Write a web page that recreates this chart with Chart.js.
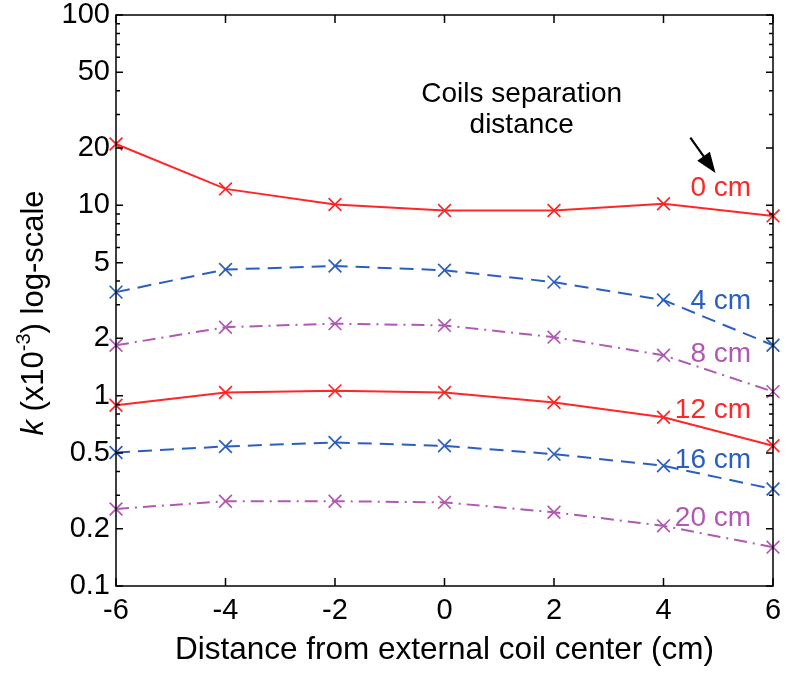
<!DOCTYPE html>
<html lang="en">
<head>
    <meta charset="UTF-8">
    <title>Coupling coefficient vs distance</title>
    <style>
        html, body { margin: 0; padding: 0; background: #fff; }
        canvas { display: block; }
    </style>
</head>
<body>
    <canvas id="kChart" width="785" height="673"></canvas>

    <script src="https://cdn.jsdelivr.net/npm/chart.js"></script>
    <script>
        // x positions (cm from external coil center)
        const distances = [-6, -4, -2, 0, 2, 4, 6];

        // k (x10^-3) for each coil separation distance
        const k0cm  = [21.0, 12.2, 10.1, 9.4, 9.4, 10.2, 8.8];
        const k4cm  = [3.5, 4.6, 4.8, 4.56, 3.95, 3.18, 1.84];
        const k8cm  = [1.84, 2.29, 2.39, 2.34, 2.03, 1.63, 1.05];
        const k12cm = [0.89, 1.04, 1.06, 1.04, 0.92, 0.77, 0.545];
        const k16cm = [0.503, 0.541, 0.568, 0.545, 0.493, 0.428, 0.323];
        const k20cm = [0.254, 0.279, 0.279, 0.275, 0.244, 0.207, 0.160];

        const separationLabels = ['0 cm', '4 cm', '8 cm', '12 cm', '16 cm', '20 cm'];

        const xTicks = [-6, -4, -2, 0, 2, 4, 6];
        const yTicks = [0.1, 0.2, 0.5, 1, 2, 5, 10, 20, 50, 100];

        const RED = '#ff2626';
        const BLUE = '#2a5fbf';
        const MAGENTA = '#b058b4';
        const FONT = '"Liberation Sans", Arial, Helvetica, sans-serif';

        function series(values, color, dash) {
            return {
                data: distances.map((x, i) => ({ x: x, y: values[i] })),
                borderColor: color,
                backgroundColor: color,
                borderWidth: 2,
                borderDash: dash,
                pointStyle: 'crossRot',
                pointRadius: 9,
                pointBorderWidth: 1.7,
                pointBorderColor: color,
                tension: 0,
                fill: false,
                clip: false
            };
        }

        const dashed = [14, 8];
        const dashDot = [13, 6, 2, 6];

        // where each curve name sits (right aligned, data coords)
        const labelSpots = [
            { x: 5.6, y: 11.2, color: RED },
            { x: 5.6, y: 2.87, color: BLUE },
            { x: 5.6, y: 1.50, color: MAGENTA },
            { x: 5.6, y: 0.761, color: RED },
            { x: 5.6, y: 0.416, color: BLUE },
            { x: 5.6, y: 0.2066, color: MAGENTA }
        ];

        // draws the box, inward ticks, y title and the text notes
        const decorations = {
            id: 'decorations',
            afterDraw(chart) {
                const ctx = chart.ctx;
                const xs = chart.scales.x;
                const ys = chart.scales.y;
                const a = chart.chartArea;
                ctx.save();
                ctx.strokeStyle = '#000';
                ctx.lineWidth = 1.5;
                ctx.strokeRect(a.left, a.top, a.right - a.left, a.bottom - a.top);

                ctx.beginPath();
                xTicks.forEach(v => {
                    const px = xs.getPixelForValue(v);
                    ctx.moveTo(px, a.bottom); ctx.lineTo(px, a.bottom - 8);
                    ctx.moveTo(px, a.top); ctx.lineTo(px, a.top + 8);
                });
                [0.1, 1, 10].forEach(dec => {
                    for (let m = 1; m <= 10; m++) {
                        const v = dec * m;
                        if (v > 100) continue;
                        const py = ys.getPixelForValue(v);
                        const len = yTicks.some(t => Math.abs(t - v) < 1e-9) ? 7 : 4;
                        ctx.moveTo(a.left, py); ctx.lineTo(a.left + len, py);
                        ctx.moveTo(a.right, py); ctx.lineTo(a.right - len, py);
                    }
                });
                ctx.stroke();

                // y axis title with italic k and superscript
                ctx.save();
                ctx.translate(43, 313);
                ctx.rotate(-Math.PI / 2);
                ctx.fillStyle = '#000';
                ctx.textBaseline = 'alphabetic';
                const parts = [
                    { t: 'k', f: 'italic 31px ' + FONT, dy: 0 },
                    { t: ' (x10', f: '31px ' + FONT, dy: 0 },
                    { t: '-3', f: '20px ' + FONT, dy: -13 },
                    { t: ') log-scale', f: '31px ' + FONT, dy: 0 }
                ];
                let total = 0;
                parts.forEach(p => { ctx.font = p.f; total += ctx.measureText(p.t).width; });
                let cx = -total / 2;
                parts.forEach(p => {
                    ctx.font = p.f;
                    ctx.fillText(p.t, cx, p.dy);
                    cx += ctx.measureText(p.t).width;
                });
                ctx.restore();

                // curve names
                ctx.font = '28px ' + FONT;
                ctx.textAlign = 'right';
                ctx.textBaseline = 'alphabetic';
                labelSpots.forEach((s, i) => {
                    ctx.fillStyle = s.color;
                    ctx.fillText(separationLabels[i], xs.getPixelForValue(s.x), ys.getPixelForValue(s.y));
                });

                // note + arrow
                ctx.fillStyle = '#000';
                ctx.textAlign = 'center';
                ctx.fillText('Coils separation', xs.getPixelForValue(1.41), ys.getPixelForValue(35.1));
                ctx.fillText('distance', xs.getPixelForValue(1.41), ys.getPixelForValue(24.1));

                const x1 = xs.getPixelForValue(4.49), y1 = ys.getPixelForValue(22.7);
                const x2 = xs.getPixelForValue(4.95), y2 = ys.getPixelForValue(14.8);
                const ang = Math.atan2(y2 - y1, x2 - x1);
                const head = 22;
                ctx.strokeStyle = '#000';
                ctx.lineWidth = 2.2;
                ctx.beginPath();
                ctx.moveTo(x1, y1);
                ctx.lineTo(x2 - head * 0.8 * Math.cos(ang), y2 - head * 0.8 * Math.sin(ang));
                ctx.stroke();
                ctx.beginPath();
                ctx.moveTo(x2, y2);
                ctx.lineTo(x2 - head * Math.cos(ang - 0.36), y2 - head * Math.sin(ang - 0.36));
                ctx.lineTo(x2 - head * Math.cos(ang + 0.36), y2 - head * Math.sin(ang + 0.36));
                ctx.closePath();
                ctx.fill();
                ctx.restore();
            }
        };

        const ctx = document.getElementById('kChart').getContext('2d');
        const kChart = new Chart(ctx, {
            type: 'line',
            data: {
                datasets: [
                    series(k0cm, RED, []),
                    series(k4cm, BLUE, dashed),
                    series(k8cm, MAGENTA, dashDot),
                    series(k12cm, RED, []),
                    series(k16cm, BLUE, dashed),
                    series(k20cm, MAGENTA, dashDot)
                ]
            },
            options: {
                responsive: false,
                animation: false,
                devicePixelRatio: 1,
                layout: { padding: { top: 15, right: 12, left: 0, bottom: 0 } },
                plugins: {
                    legend: { display: false },
                    tooltip: { enabled: false }
                },
                scales: {
                    x: {
                        type: 'linear',
                        min: -6,
                        max: 6,
                        afterBuildTicks: s => { s.ticks = xTicks.map(v => ({ value: v })); },
                        afterFit: s => {
                            s.height = 87;
                            s.paddingLeft = 0;
                            s.paddingRight = 0;
                        },
                        grid: { display: false, drawTicks: false },
                        border: { display: false },
                        ticks: {
                            color: '#000',
                            font: { family: FONT, size: 29 },
                            padding: 8,
                            maxRotation: 0,
                            autoSkip: false
                        },
                        title: {
                            display: true,
                            text: 'Distance from external coil center (cm)',
                            color: '#000',
                            font: { family: FONT, size: 31.5 },
                            padding: { top: 0, bottom: 4 }
                        }
                    },
                    y: {
                        type: 'logarithmic',
                        min: 0.1,
                        max: 100,
                        afterBuildTicks: s => { s.ticks = yTicks.map(v => ({ value: v })); },
                        afterFit: s => {
                            s.width = 116;
                            s.paddingTop = 0;
                            s.paddingBottom = 0;
                        },
                        grid: { display: false, drawTicks: false },
                        border: { display: false },
                        ticks: {
                            color: '#000',
                            font: { family: FONT, size: 29 },
                            padding: 6,
                            autoSkip: false,
                            callback: v => String(v)
                        }
                    }
                }
            },
            plugins: [decorations]
        });
    </script>
</body>
</html>
